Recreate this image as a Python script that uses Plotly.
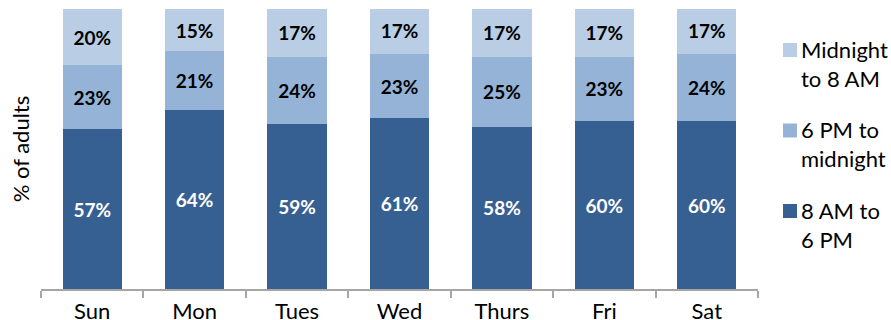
import plotly.graph_objects as go

days = ["Sun", "Mon", "Tues", "Wed", "Thurs", "Fri", "Sat"]
day_8am_6pm = [57, 64, 59, 61, 58, 60, 60]
pm6_midnight = [23, 21, 24, 23, 25, 23, 24]
midnight_8am = [20, 15, 17, 17, 17, 17, 17]

series = [
    ("8 AM to<br>6 PM", day_8am_6pm, "#376092", "white"),
    ("6 PM to<br>midnight", pm6_midnight, "#95B3D7", "black"),
    ("Midnight<br>to 8 AM", midnight_8am, "#B9CDE5", "black"),
]

FONT = "Lato"
W, H = 891, 320
ML, MR, MT, MB = 41, 133, 9, 31
PW, PH = W - ML - MR, H - MT - MB


def px(x):
    return (x - ML) / PW


def py(y):
    return (H - MB - y) / PH


fig = go.Figure()
for name, vals, color, tcolor in series:
    fig.add_trace(go.Bar(
        x=days, y=vals, name=name,
        marker=dict(color=color, line=dict(width=0)),
        text=[f"{v}%" for v in vals],
        textposition="inside", insidetextanchor="middle",
        textfont=dict(family=FONT, size=19, color=tcolor, weight="bold"),
        constraintext="none",
        hoverinfo="skip",
        showlegend=False,
    ))

# manual legend (reversed order: top item is last series)
for i, (name, vals, color, tcolor) in enumerate(reversed(series)):
    top = 43 + 80.5 * i
    fig.add_shape(type="rect", xref="paper", yref="paper",
                  x0=px(783), x1=px(797), y0=py(top), y1=py(top + 14),
                  fillcolor=color, line=dict(width=0))
    fig.add_annotation(xref="paper", yref="paper", x=px(799), y=py(top + 21),
                       xanchor="left", yanchor="middle", align="left",
                       text=name, showarrow=False,
                       font=dict(family=FONT, size=22, color="black"))

fig.update_layout(
    barmode="stack", bargap=0.42,
    width=W, height=H,
    margin=dict(l=ML, r=MR, t=MT, b=MB, autoexpand=False),
    plot_bgcolor="white", paper_bgcolor="white",
    font=dict(family=FONT, size=22, color="black"),
    showlegend=False,
    uniformtext=dict(mode=False),
)
fig.update_xaxes(
    automargin=False,
    showline=True, linecolor="#a6a6a6", linewidth=2,
    ticks="outside", tickson="boundaries", ticklen=7, tickcolor="#a6a6a6", tickwidth=2,
    tickfont=dict(family=FONT, size=22, color="black"),
    ticklabelstandoff=2,
    showgrid=False,
)
fig.update_yaxes(
    automargin=False,
    range=[0, 100], showgrid=False, showline=False, showticklabels=False, ticks="",
    zeroline=False,
    title=dict(text="% of adults", font=dict(family=FONT, size=22, color="black"), standoff=4),
)

fig.write_html("out.html")
